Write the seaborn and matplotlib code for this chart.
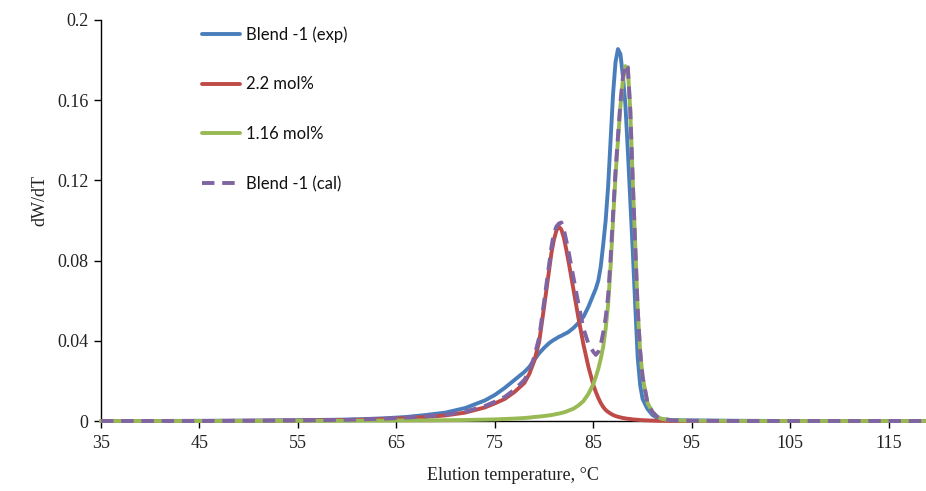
import matplotlib
matplotlib.use("Agg")
import matplotlib.pyplot as plt
from matplotlib.ticker import FuncFormatter, FixedLocator
import numpy as np
import pandas as pd
import seaborn as sns

# Elution temperature grid (deg C)
temperature = [35, 40, 45, 50, 55, 60, 62, 64, 66, 68, 70, 72, 74,
               75, 76, 77, 78, 78.5, 79, 79.5, 80,
               80.5, 80.75, 81, 81.25, 81.5, 81.75, 82, 82.25, 82.5,
               83, 83.5, 84, 84.5, 85, 85.25, 85.5, 85.75, 86,
               86.25, 86.5, 86.75, 87, 87.25, 87.5, 87.75, 88,
               88.25, 88.5, 88.75, 89, 89.25, 89.5, 89.75, 90,
               90.5, 91, 91.5, 92, 93, 95, 100, 105, 110, 115, 119]

blend_exp = [0, 0, 0.0001, 0.0002, 0.0004, 0.0007, 0.001, 0.0014, 0.002, 0.003, 0.0042, 0.0065, 0.0103,
             0.013, 0.0165, 0.0205, 0.0245, 0.027, 0.0305, 0.0338, 0.0365,
             0.0388, 0.0397, 0.0405, 0.0412, 0.042, 0.0425, 0.0432, 0.0438, 0.0445,
             0.0465, 0.049, 0.052, 0.057, 0.063, 0.066, 0.07, 0.077, 0.088,
             0.1, 0.117, 0.14, 0.163, 0.179, 0.1855, 0.183, 0.172,
             0.158, 0.135, 0.11, 0.085, 0.058, 0.032, 0.018, 0.011,
             0.006, 0.003, 0.0015, 0.0008, 0.0004, 0.0003, 0.0001, 0, 0, 0, 0]

mol_2_2 = [0, 0, 0, 0.0001, 0.0002, 0.0005, 0.0007, 0.001, 0.0014, 0.002, 0.0028, 0.0042, 0.0068,
           0.0088, 0.011, 0.0145, 0.019, 0.0235, 0.03, 0.0395, 0.057,
           0.075, 0.084, 0.0905, 0.095, 0.097, 0.0955, 0.0915, 0.0855, 0.079,
           0.065, 0.051, 0.038, 0.027, 0.018, 0.0145, 0.0115, 0.009, 0.007,
           0.0055, 0.0045, 0.0037, 0.003, 0.0025, 0.0021, 0.0018, 0.0015,
           0.0013, 0.0011, 0.001, 0.0008, 0.0007, 0.0006, 0.0005, 0.0004,
           0.0003, 0.0002, 0.0001, 0.0001, 0, 0, 0, 0, 0, 0, 0]

mol_1_16 = [0, 0, 0, 0, 0.0001, 0.0001, 0.0002, 0.0002, 0.0003, 0.0003, 0.0004, 0.0005, 0.0007,
            0.0008, 0.001, 0.0012, 0.0015, 0.0017, 0.002, 0.0022, 0.0025,
            0.0028, 0.003, 0.0032, 0.0035, 0.0037, 0.004, 0.0043, 0.0047, 0.0052,
            0.0062, 0.0078, 0.01, 0.0135, 0.0185, 0.022, 0.026, 0.031, 0.037,
            0.046, 0.058, 0.077, 0.1, 0.122, 0.14, 0.157, 0.17,
            0.177, 0.176, 0.155, 0.12, 0.088, 0.056, 0.035, 0.022,
            0.009, 0.0045, 0.002, 0.001, 0.0004, 0.0001, 0, 0, 0, 0, 0]

blend_cal = [0, 0, 0, 0.0001, 0.0003, 0.0006, 0.0009, 0.0012, 0.0017, 0.0023, 0.0032, 0.0047, 0.0075,
             0.0096, 0.012, 0.0157, 0.0205, 0.025, 0.032, 0.0417, 0.0595,
             0.0778, 0.087, 0.0937, 0.097, 0.0985, 0.099, 0.0955, 0.09, 0.084,
             0.071, 0.058, 0.046, 0.0385, 0.0345, 0.033, 0.0345, 0.038, 0.044,
             0.0515, 0.0625, 0.081, 0.103, 0.1245, 0.142, 0.159, 0.1715,
             0.178, 0.1765, 0.155, 0.12, 0.088, 0.056, 0.035, 0.022,
             0.009, 0.0045, 0.002, 0.001, 0.0004, 0.0001, 0, 0, 0, 0, 0]

series_names = ["Blend -1 (exp)", "2.2 mol%", "1.16 mol%", "Blend -1 (cal)"]
series_values = [blend_exp, mol_2_2, mol_1_16, blend_cal]

y_ticks = [0, 0.04, 0.08, 0.12, 0.16, 0.2]
x_ticks = [35, 45, 55, 65, 75, 85, 95, 105, 115]

df = pd.concat(
    [pd.DataFrame({"T": temperature, "dWdT": vals, "series": name})
     for name, vals in zip(series_names, series_values)],
    ignore_index=True,
)

sns.set_theme(style="white")
plt.rcParams["font.family"] = ["Liberation Serif", "DejaVu Serif"]

colors = {"Blend -1 (exp)": "#4A7EBB", "2.2 mol%": "#BE4B48",
          "1.16 mol%": "#98B954", "Blend -1 (cal)": "#8064A2"}
dashes = {"Blend -1 (exp)": "", "2.2 mol%": "", "1.16 mol%": "",
          "Blend -1 (cal)": (3.2, 2.0)}

fig = plt.figure(figsize=(9.26, 4.91), dpi=100)
ax = fig.add_axes([101 / 926, 70 / 491, 837 / 926, 401 / 491])

sns.lineplot(data=df, x="T", y="dWdT", hue="series", style="series",
             hue_order=series_names, style_order=series_names,
             palette=colors, dashes=dashes, linewidth=2.8, sort=False,
             estimator=None, legend=False, ax=ax, clip_on=False)

ax.set_xlim(35, 120)
ax.set_ylim(0, 0.2)
ax.xaxis.set_major_locator(FixedLocator(x_ticks))
ax.yaxis.set_major_locator(FixedLocator(y_ticks))
ax.yaxis.set_major_formatter(FuncFormatter(lambda v, p: f"{v:g}"))

for side in ("top", "right"):
    ax.spines[side].set_visible(False)
for side in ("left", "bottom"):
    ax.spines[side].set_color("black")
    ax.spines[side].set_linewidth(1.0)
    ax.spines[side].set_zorder(0.5)

ax.tick_params(axis="both", which="major", direction="out", length=5,
               width=1, color="black", labelsize=13, labelcolor="#222222",
               bottom=True, left=True)
ax.tick_params(axis="x", pad=5)
ax.tick_params(axis="y", pad=4)

ax.set_xlabel("Elution temperature, °C", fontsize=13, color="#222222")
ax.set_ylabel("dW/dT", fontsize=13, color="#222222")
ax.xaxis.set_label_coords((513 - 101) / 837, -(467 - 421) / 401)
ax.yaxis.set_label_coords(-(101 - 48) / 837, (421 - 201) / 401)

handles = ax.get_lines()[:4]
leg = ax.legend(handles, series_names, loc="upper left",
                bbox_to_anchor=((187 - 101) / 837, (421 - 11) / 401),
                frameon=False, handlelength=2.25,
                handletextpad=0.4, labelspacing=2.03,
                prop={"family": ["Lato", "DejaVu Sans"], "size": 12})
for t in leg.get_texts():
    t.set_color("#111111")

fig.savefig("out.png", dpi=100)
